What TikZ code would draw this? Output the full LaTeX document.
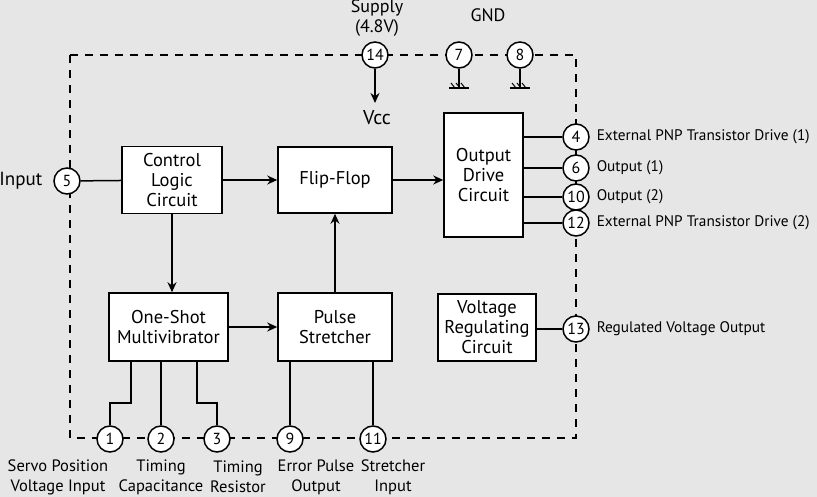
\documentclass[tikz,border=0pt]{standalone}
\usepackage{fontspec}
\setmainfont{PT Sans}
\usetikzlibrary{arrows.meta}
\definecolor{bgc}{HTML}{E6E6E7}
\begin{document}
\begin{tikzpicture}[x=1pt,y=-1pt,
  line width=1.5pt,
  blk/.style={draw, fill=white, align=center, font=\fontsize{18.5}{20}\selectfont, inner sep=0pt},
  pin/.style={draw, fill=white, circle, minimum size=26pt, inner sep=0pt, font=\fontsize{16}{16}\selectfont},
  lbl/.style={font=\fontsize{16.5}{20}\selectfont, align=center, inner sep=0pt},
  rlbl/.style={font=\fontsize{15.3}{16}\selectfont, anchor=west, inner sep=0pt},
  arr/.style={-{Stealth[length=10pt,width=9pt]}}]
\fill[bgc] (0,0) rectangle (817,497);
\useasboundingbox (0,0) rectangle (817,497);
% dashed boundary
\draw[dash pattern=on 8pt off 7pt, line width=1.2pt] (70,55) rectangle (576,438);
% blocks
\node[blk, minimum width=100pt, minimum height=67pt] (ctl) at (172,180) {Control\\Logic\\Circuit};
\node[blk, minimum width=114pt, minimum height=66pt] (ff) at (335,180) {Flip-Flop};
\node[blk, minimum width=79pt, minimum height=124pt] (odc) at (483.5,175) {Output\\Drive\\Circuit};
\node[blk, minimum width=119pt, minimum height=68pt] (osm) at (168.5,327) {One-Shot\\Multivibrator};
\node[blk, minimum width=114pt, minimum height=68pt] (ps) at (335,327) {Pulse\\Stretcher};
\node[blk, minimum width=98pt, minimum height=67pt] (vrc) at (487,327.5) {Voltage\\Regulating\\Circuit};
% top pins
\node[pin] (p14) at (375,55) {14};
\node[pin] (p7) at (459,55) {7};
\node[pin] (p8) at (520,55) {8};
\node[lbl, font=\fontsize{18}{20}\selectfont] (sup) at (377,18) {Supply\\(4.8V)};
\node[lbl, font=\fontsize{18}{20}\selectfont] (gnd) at (488,15) {GND};
\coordinate (vccend) at (375,103);
\draw[arr] (p14) -- (vccend);
\node[lbl, font=\fontsize{20}{20}\selectfont] (vcc) at (377,118) {Vcc};
\foreach \p/\x in {p7/459,p8/520}{
  \coordinate (g\p) at (\x,88);
  \draw[line width=1.2pt] (\p) -- (g\p);
  \draw[line width=1.2pt] ([xshift=-10pt]g\p) -- ([xshift=10pt]g\p);
  \foreach \d in {-5,0,5}{
    \draw[line width=1pt] ([xshift=\d pt+1pt]g\p) -- ([xshift=\d pt-3pt, yshift=5pt]g\p);
  }
}
% input
\node[pin] (p5) at (67,181) {5};
\node[lbl, font=\fontsize{19}{20}\selectfont, anchor=east] (inp) at (43,181) {Input};
\draw (p5) -- (ctl);
\draw[arr] (ctl) -- (ff);
\draw[arr] (ff) -- (odc.west |- ff);
\draw[arr] (ctl) -- (ctl |- osm.north);
\draw[arr] (osm) -- (ps);
\draw[arr] (ps) -- (ff);
% right pins
\node[pin] (p4) at (576,137) {4};
\node[pin] (p6) at (576,168) {6};
\node[pin] (p10) at (576,197) {10};
\node[pin] (p12) at (576,223) {12};
\node[pin] (p13) at (576,329) {13};
\foreach \p in {p4,p6,p10,p12}{ \draw (odc.east |- \p) -- (\p); }
\draw (vrc.east |- p13) -- (p13);
\node[rlbl] (l4) at (596,137) {External PNP Transistor Drive (1)};
\node[rlbl] (l6) at (596,168) {Output (1)};
\node[rlbl] (l10) at (596,197) {Output (2)};
\node[rlbl] (l12) at (596,223) {External PNP Transistor Drive (2)};
\node[rlbl] (l13) at (596,329) {Regulated Voltage Output};
% bottom pins
\node[pin] (p1) at (110,439) {1};
\node[pin] (p2) at (161,439) {2};
\node[pin] (p3) at (217,439) {3};
\node[pin] (p9) at (290,439) {9};
\node[pin] (p11) at (373,439) {11};
\draw (osm.south -| 131,0) |- (110,403) -- (p1);
\draw (osm.south -| p2) -- (p2);
\draw (osm.south -| 197,0) |- (217,403) -- (p3);
\draw (ps.south -| p9) -- (p9);
\draw (ps.south -| p11) -- (p11);
\node[lbl] (b1) at (58,477) {Servo Position\\Voltage Input};
\node[lbl] (b2) at (161,477) {Timing\\Capacitance};
\node[lbl] (b3) at (238,477) {Timing\\Resistor};
\node[lbl] (b9) at (316,477) {Error Pulse\\Output};
\node[lbl] (b11) at (393,477) {Stretcher\\Input};
\end{tikzpicture}
\end{document}
